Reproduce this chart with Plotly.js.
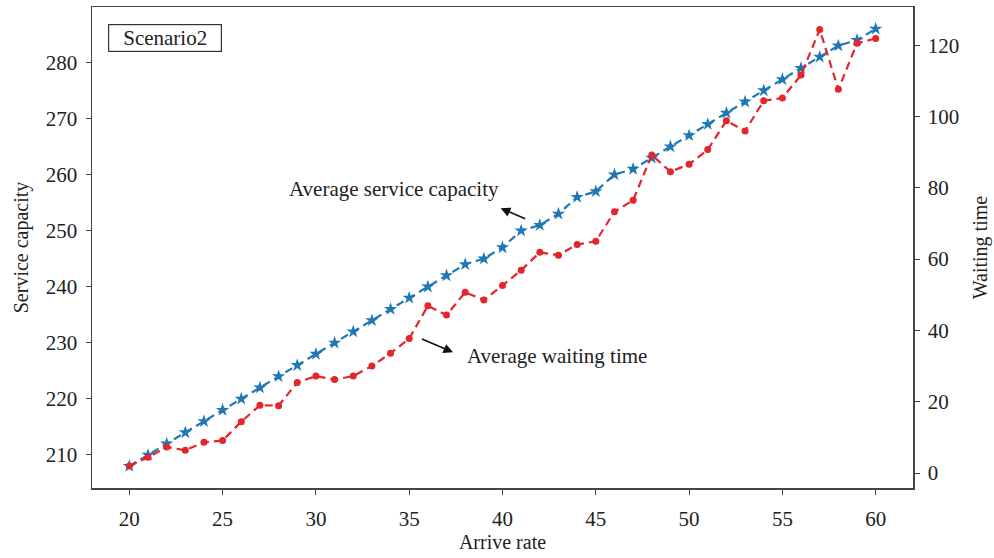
<!DOCTYPE html>
<html>
<head>
<meta charset="utf-8">
<script src="https://cdn.plot.ly/plotly-3.0.1.min.js"></script>
<style>
  html, body { margin: 0; padding: 0; background: #fff; }
  #chart { width: 994px; height: 558px; }
</style>
</head>
<body>
<div id="chart"></div>
<script>
// Arrive rate on the x axis
const arriveRate = [20,21,22,23,24,25,26,27,28,29,30,31,32,33,34,35,36,37,38,39,40,
                    41,42,43,44,45,46,47,48,49,50,51,52,53,54,55,56,57,58,59,60];

// Average service capacity (left axis)
const serviceCapacity = [208,210,212,214,216,218,220,222,224,226,228,230,232,234,236,238,240,242,244,245,247,
                         250,251,253,256,257,260,261,263,265,267,269,271,273,275,277,279,281,283,284,286];

// Average waiting time (right axis)
const waitingTime = [2,4.4,7.3,6.4,8.6,9.1,14.4,19,18.9,25.4,27.2,26.2,27.2,30,33.6,37.7,46.9,44.3,50.7,48.5,52.6,
                     56.9,61.9,61.1,64.1,65,73.3,76.5,89.2,84.5,86.6,90.7,98.8,95.9,104.4,105.2,111.6,124.4,107.6,120.5,121.9];

const xTicks = [20,25,30,35,40,45,50,55,60];
const leftTicks = [210,220,230,240,250,260,270,280];
const rightTicks = [0,20,40,60,80,100,120];

const serif = "Liberation Serif, Times New Roman, serif";
const ink = "#222";
const frame = "#444";

const traces = [
  {
    x: arriveRate, y: serviceCapacity, type: "scatter", mode: "lines+markers",
    name: "Average service capacity", yaxis: "y",
    line: { color: "#1f77b4", width: 2.2, dash: "8px,5px" },
    marker: { symbol: "star", size: 10, color: "#1f77b4" }
  },
  {
    x: arriveRate, y: waitingTime, type: "scatter", mode: "lines+markers",
    name: "Average waiting time", yaxis: "y2",
    line: { color: "#e4252b", width: 2.2, dash: "8px,5px" },
    marker: { symbol: "circle", size: 7, color: "#e4252b" }
  }
];

const axisCommon = {
  showgrid: false, zeroline: false,
  showline: true, linecolor: frame, linewidth: 1.5,
  ticks: "outside", ticklen: 5, tickwidth: 1, tickcolor: frame,
  tickfont: { family: serif, size: 21, color: ink }
};

const layout = {
  width: 994, height: 558,
  margin: { l: 92, r: 81, t: 7, b: 70 },
  paper_bgcolor: "#fff", plot_bgcolor: "#fff",
  showlegend: false,
  font: { family: serif, color: ink },
  xaxis: Object.assign({}, axisCommon, {
    range: [18, 62], tickvals: xTicks, mirror: true, ticklabelstandoff: 6,
    title: { text: "Arrive rate", font: { family: serif, size: 20, color: ink }, standoff: 4 }
  }),
  yaxis: Object.assign({}, axisCommon, {
    range: [204.1, 289.9], tickvals: leftTicks, ticklabelstandoff: 4,
    title: { text: "Service capacity", font: { family: serif, size: 20, color: ink }, standoff: 12 }
  }),
  yaxis2: Object.assign({}, axisCommon, {
    overlaying: "y", side: "right", ticklabelstandoff: 4,
    range: [-4.2, 130.7], tickvals: rightTicks,
    title: { text: "Waiting time", font: { family: serif, size: 20, color: ink }, standoff: 15 }
  }),
  annotations: [
    {
      xref: "paper", yref: "paper", x: 0.0195, y: 0.9356, xanchor: "left", yanchor: "middle",
      text: "Scenario2", showarrow: false, width: 104, height: 18, align: "center",
      font: { family: serif, size: 21, color: ink },
      bordercolor: "#333", borderwidth: 1.2, borderpad: 4, bgcolor: "#fff"
    },
    {
      xref: "x", yref: "y", x: 34.16, y: 257.5,
      text: "Average service capacity", showarrow: false,
      font: { family: serif, size: 21, color: ink }
    },
    {
      xref: "x", yref: "y", x: 39.9, y: 254.0,
      axref: "x", ayref: "y", ax: 41.3, ay: 252.0,
      text: "", showarrow: true, arrowhead: 2, arrowsize: 1.2, arrowwidth: 1.6, arrowcolor: "#111"
    },
    {
      xref: "x", yref: "y", x: 42.9, y: 227.6,
      text: "Average waiting time", showarrow: false,
      font: { family: serif, size: 21, color: ink }
    },
    {
      xref: "x", yref: "y", x: 37.35, y: 228.3,
      axref: "x", ayref: "y", ax: 35.6, ay: 230.8,
      text: "", showarrow: true, arrowhead: 2, arrowsize: 1.2, arrowwidth: 1.6, arrowcolor: "#111"
    }
  ]
};

Plotly.newPlot("chart", traces, layout, { displayModeBar: false, staticPlot: true });
</script>
</body>
</html>
